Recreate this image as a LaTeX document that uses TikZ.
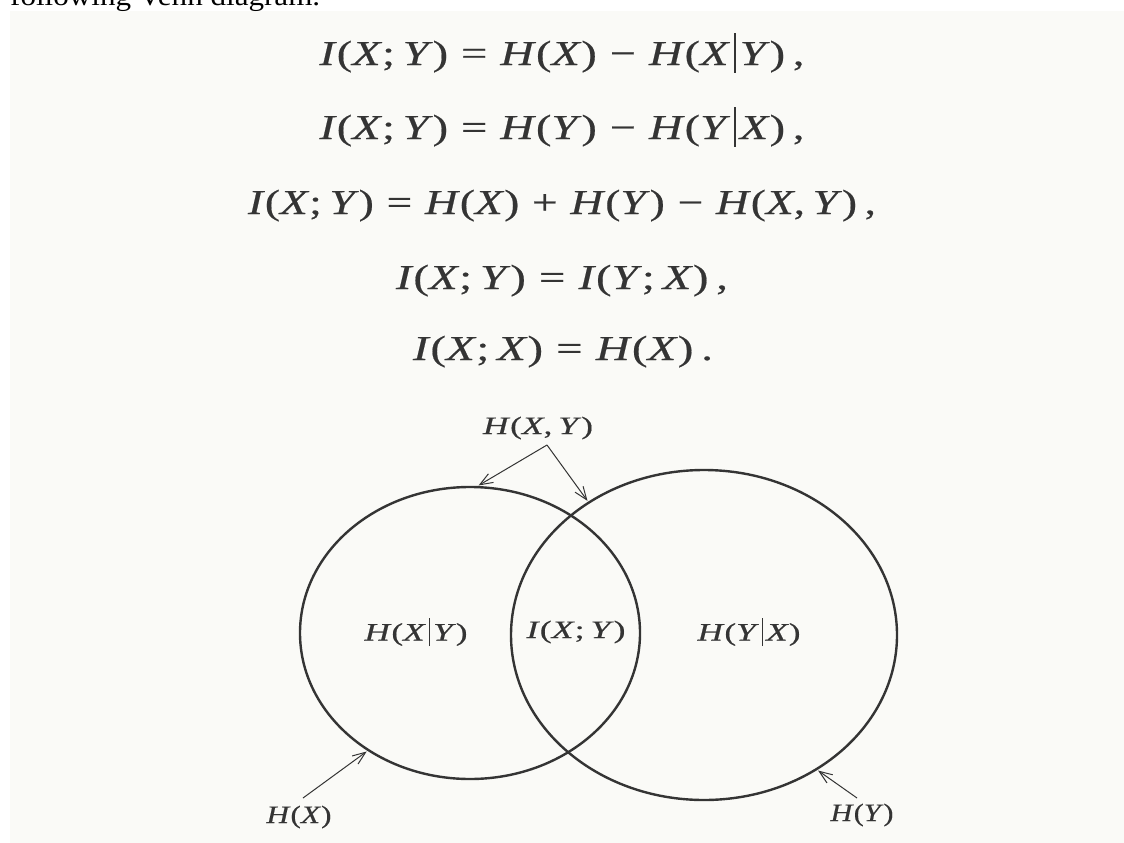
\documentclass[tikz,border=0pt]{standalone}
\usepackage{fontspec}
\usepackage{graphicx}
\setmainfont{Liberation Serif}
\newfontfamily\eqfont[FakeBold=0.4]{Liberation Serif}
\usetikzlibrary{arrows.meta,shapes.geometric}
\definecolor{ink}{RGB}{52,52,52}
\definecolor{paper}{RGB}{250,250,247}
\newcommand{\mi}[1]{\textit{#1}}
\newcommand{\vb}{\hspace{0.08em}\raisebox{-0.22em}{\rule{0.05em}{1.12em}}\hspace{0.08em}}
\newcommand{\eqs}{\hspace{0.28em}}
\newcommand{\wbox}[2]{\resizebox{#1}{\height}{#2}}
\tikzset{
  eqn/.style={anchor=base, inner sep=0pt, text=ink, font=\eqfont\fontsize{35}{40}\selectfont},
  lab/.style={inner sep=0pt, text=ink, font=\eqfont\fontsize{25}{28}\selectfont},
  venn/.style={ellipse, draw=ink, line width=2.4pt, inner sep=0pt},
  pointer/.style={draw=ink, line width=1pt, -{Straight Barb[length=13pt,width=10pt,line width=1pt]}, shorten >=1pt}
}
\begin{document}
\begin{tikzpicture}[x=1pt,y=-1pt]
\useasboundingbox (0,0) rectangle (1124,843);
\fill[paper] (10,11) rectangle (1124,843);
\node[anchor=base west, inner sep=0pt, font=\fontsize{28}{30}\selectfont] (intro) at (10,6) {\wbox{310pt}{following Venn diagram.}};
% equations
\node[eqn] (e1) at (562,65) {\wbox{485pt}{\mi{I}(\mi{X};\,\mi{Y})\eqs=\eqs\mi{H}(\mi{X})\eqs−\eqs\mi{H}(\mi{X}\vb\mi{Y})\,,}};
\node[eqn] (e2) at (562,139) {\wbox{485pt}{\mi{I}(\mi{X};\,\mi{Y})\eqs=\eqs\mi{H}(\mi{Y})\eqs−\eqs\mi{H}(\mi{Y}\vb\mi{X})\,,}};
\node[eqn] (e3) at (562,214) {\wbox{628pt}{\mi{I}(\mi{X};\,\mi{Y})\eqs=\eqs\mi{H}(\mi{X})\eqs+\eqs\mi{H}(\mi{Y})\eqs−\eqs\mi{H}(\mi{X},\,\mi{Y})\,,}};
\node[eqn] (e4) at (562,289) {\wbox{332pt}{\mi{I}(\mi{X};\,\mi{Y})\eqs=\eqs\mi{I}(\mi{Y};\,\mi{X})\,,}};
\node[eqn] (e5) at (563,360) {\wbox{300pt}{\mi{I}(\mi{X};\,\mi{X})\eqs=\eqs\mi{H}(\mi{X})\,.}};
% circles
\node[venn, minimum width=340pt, minimum height=292pt] (cx) at (470,633) {};
\node[venn, minimum width=386pt, minimum height=330pt] (cy) at (704,635) {};
% labels
\node[lab] (hxy) at (538,428) {\wbox{110pt}{\mi{H}(\mi{X},\,\mi{Y})}};
\node[lab] (hxgy) at (416,632) {\wbox{103pt}{\mi{H}(\mi{X}\vb\mi{Y})}};
\node[lab] (ixy) at (576,632) {\wbox{99pt}{\mi{I}(\mi{X};\,\mi{Y})}};
\node[lab] (hygx) at (749,632) {\wbox{103pt}{\mi{H}(\mi{Y}\vb\mi{X})}};
\node[lab] (hx) at (299,817) {\wbox{65pt}{\mi{H}(\mi{X})}};
\node[lab] (hy) at (862,815) {\wbox{63pt}{\mi{H}(\mi{Y})}};
% pointers
\coordinate (apex) at (547,445);
\coordinate (hxs) at (303,798);
\coordinate (hys) at (857,798);
\draw[pointer] (apex) -- (cx.87);
\draw[pointer] (apex) -- (cy.131);
\draw[pointer] (hxs) -- (cx.-131);
\draw[pointer] (hys) -- (cy.-50);
\end{tikzpicture}
\end{document}
